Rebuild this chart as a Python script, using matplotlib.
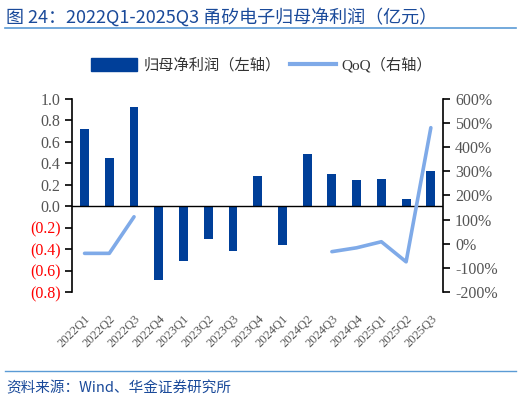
import numpy as np
import matplotlib
matplotlib.use("Agg")
import matplotlib.pyplot as plt
from matplotlib.ticker import FixedFormatter

quarters = ["2022Q1", "2022Q2", "2022Q3", "2022Q4", "2023Q1", "2023Q2", "2023Q3", "2023Q4",
            "2024Q1", "2024Q2", "2024Q3", "2024Q4", "2025Q1", "2025Q2", "2025Q3"]
profit = [0.72, 0.45, 0.92, -0.69, -0.51, -0.30, -0.42, 0.28,
          -0.36, 0.49, 0.30, 0.245, 0.255, 0.065, 0.33]
qoq = [-39, -39, 112, np.nan, np.nan, np.nan, np.nan, np.nan,
       np.nan, np.nan, -32, -16, 9, -74, 480]
left_ticks = [1.0, 0.8, 0.6, 0.4, 0.2, 0.0, -0.2, -0.4, -0.6, -0.8]
right_ticks = [600, 500, 400, 300, 200, 100, 0, -100, -200]

BAR_COLOR = "#003f99"
LINE_COLOR = "#7faae8"
GRAY = "#555555"
CJK = ["Noto Sans CJK SC", "DejaVu Sans"]

# 数字用 Times 风格字体, 中文回退到 Noto
plt.rcParams['font.family'] = ['Liberation Serif', 'Noto Sans CJK SC']


def left_label(v):
    if v < -1e-9:
        return "({:.1f})".format(-v)
    return "{:.1f}".format(abs(v))


def main():
    fig = plt.figure(figsize=(5.27, 4.01), dpi=100)
    ax = fig.add_axes([0.137, 0.271, 0.704, 0.483])
    x = np.arange(len(quarters))

    ax.bar(x, profit, width=0.36, color=BAR_COLOR, zorder=2)
    ax.axhline(0, color="black", lw=1.0, zorder=3)
    ax.set_xlim(-0.5, len(quarters) - 0.5)
    ax.set_ylim(-0.8, 1.0)
    ax.set_yticks(left_ticks)
    ax.yaxis.set_major_formatter(FixedFormatter([left_label(v) for v in left_ticks]))
    ax.tick_params(axis="y", direction="out", length=5, width=1.2, color="black",
                   labelsize=11.5, labelcolor=GRAY)
    ax.set_xticks(x)
    ax.set_xticklabels(quarters, rotation=45, ha="right", rotation_mode="anchor")
    ax.tick_params(axis="x", length=0, pad=15, labelsize=9, labelcolor=GRAY)
    for s in ["top", "right", "bottom"]:
        ax.spines[s].set_visible(False)
    ax.spines["left"].set_linewidth(1.2)

    ax2 = ax.twinx()
    ax2.plot(x, qoq, color=LINE_COLOR, lw=2.6, solid_capstyle="round", zorder=4)
    ax2.set_ylim(-200, 600)
    ax2.set_yticks(right_ticks)
    ax2.set_yticklabels(["{}%".format(t) for t in right_ticks])
    ax2.tick_params(axis="y", direction="out", length=5, width=1.2, color="black",
                    labelsize=11.5, labelcolor=GRAY)
    for s in ["top", "left", "bottom"]:
        ax2.spines[s].set_visible(False)
    ax2.spines["right"].set_linewidth(1.2)

    fig.canvas.draw()
    for lab, v in zip(ax.get_yticklabels(), left_ticks):
        if v < 0:
            lab.set_color("red")

    # 图例
    h1 = plt.Rectangle((0, 0), 1, 1, color=BAR_COLOR)
    h2 = plt.Line2D([0], [0], color=LINE_COLOR, lw=3)
    leg = fig.legend([h1, h2], ["归母净利润（左轴）", "QoQ（右轴）"], loc="center",
                     bbox_to_anchor=(0.497, 0.838), ncol=2, frameon=False,
                     prop={"size": 11}, handlelength=3.0, handleheight=0.9,
                     columnspacing=0.6, handletextpad=0.4)
    for t in leg.get_texts():
        t.set_color("#333333")

    # 标题、分隔线、来源
    fig.text(0.012, 0.957, "图 24：2022Q1-2025Q3 甬矽电子归母净利润（亿元）",
             family=CJK, fontsize=13, color="#1a4a9a", va="center")
    fig.add_artist(plt.Line2D([0.01, 0.98], [0.929, 0.929], color="#5b9bd5", lw=1.2))
    fig.add_artist(plt.Line2D([0.01, 0.98], [0.075, 0.075], color="#5b9bd5", lw=1.0))
    fig.text(0.012, 0.033, "资料来源：Wind、华金证券研究所", family=CJK, fontsize=10.5,
             color="#1a4a9a", style="italic", va="center")

    fig.savefig("out.png", dpi=100)


if __name__ == "__main__":
    main()
